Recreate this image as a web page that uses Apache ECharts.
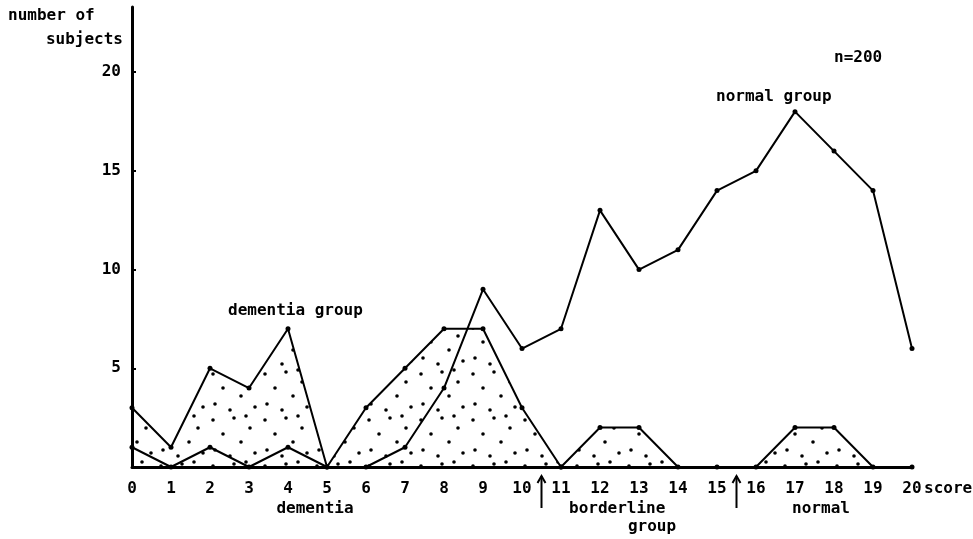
<!DOCTYPE html>
<html>
<head>
<meta charset="utf-8">
<script src="https://cdn.jsdelivr.net/npm/echarts@6/dist/echarts.min.js"></script>
<style>
  html, body { margin: 0; padding: 0; background: #fff; }
  #chart { width: 973px; height: 539px; }
</style>
</head>
<body>
<div id="chart"></div>
<script>
var scoreTicks = [0, 1, 2, 3, 4, 5, 6, 7, 8, 9, 10, 11, 12, 13, 14, 15, 16, 17, 18, 19, 20]
var dementiaScores = [0, 1, 2, 3, 4, 5, 6, 7, 8, 9, 10, 11]
var dementiaCounts = [3, 1, 5, 4, 7, 0, 3, 5, 7, 7, 3, 0]
var normalCounts = [1, 0, 1, 0, 1, 0, 0, 1, 4, 9, 6, 7, 13, 10, 11, 14, 15, 18, 16, 14, 6]
var borderlineScores = [11, 12, 13, 14, 15]
var borderlineCounts = [0, 2, 2, 0, 0]
var normalRangeScores = [16, 17, 18, 19, 20]
var normalRangeCounts = [0, 2, 2, 0, 0]
var yTicks = [5, 10, 15, 20]

var FONT = 'DejaVu Sans Mono'

function pairs(xs, ys) {
  return xs.map(function (x, i) { return [x, ys[i]] })
}

// dotted fill pattern
function dotPattern() {
  var c = document.createElement('canvas')
  c.width = 52
  c.height = 46
  var ctx = c.getContext('2d')
  ctx.fillStyle = '#000'
  var dots = [[5, 6], [26, 4], [42, 14], [15, 20], [33, 28], [7, 36], [47, 39], [22, 42], [38, 2]]
  dots.forEach(function (d) {
    ctx.beginPath()
    ctx.arc(d[0], d[1], 1.8, 0, Math.PI * 2)
    ctx.fill()
  })
  return c
}
var dots = { image: dotPattern(), repeat: 'repeat' }

var lineStyle = { color: '#000', width: 2 }
var itemStyle = { color: '#000' }

var myChart = echarts.init(document.getElementById('chart'))
var option = {
  backgroundColor: '#fff',
  animation: false,
  grid: { left: 132, right: 61, top: 7, bottom: 72 },
  xAxis: {
    type: 'value',
    min: 0,
    max: 20,
    interval: 1,
    axisLine: { lineStyle: { color: '#000', width: 3 } },
    axisTick: { show: false },
    splitLine: { show: false },
    axisLabel: {
      color: '#000',
      fontFamily: FONT,
      fontWeight: 'bold',
      fontSize: 16,
      margin: 14,
      formatter: function (v) { return scoreTicks.indexOf(v) >= 0 ? String(v) : '' }
    }
  },
  yAxis: {
    type: 'value',
    min: 0,
    max: 23.3,
    interval: 5,
    axisLine: { show: true, lineStyle: { color: '#000', width: 3 } },
    axisTick: { show: true, inside: true, length: 4, lineStyle: { color: '#000', width: 2 } },
    splitLine: { show: false },
    axisLabel: {
      color: '#000',
      fontFamily: FONT,
      fontWeight: 'bold',
      fontSize: 16,
      margin: 11,
      showMaxLabel: false,
      formatter: function (v) { return yTicks.indexOf(v) >= 0 ? String(v) : '' }
    }
  },
  series: [
    {
      name: 'dementia group',
      type: 'line',
      data: pairs(dementiaScores, dementiaCounts),
      symbol: 'circle',
      symbolSize: 5,
      lineStyle: lineStyle,
      itemStyle: itemStyle,
      areaStyle: { color: dots, opacity: 1 },
      z: 2
    },
    {
      name: 'borderline group',
      type: 'line',
      data: pairs(borderlineScores, borderlineCounts),
      symbol: 'circle',
      symbolSize: 5,
      lineStyle: lineStyle,
      itemStyle: itemStyle,
      areaStyle: { color: dots, opacity: 1 },
      z: 2
    },
    {
      name: 'normal',
      type: 'line',
      data: pairs(normalRangeScores, normalRangeCounts),
      symbol: 'circle',
      symbolSize: 5,
      lineStyle: lineStyle,
      itemStyle: itemStyle,
      areaStyle: { color: dots, opacity: 1 },
      z: 2
    },
    {
      name: 'normal group',
      type: 'line',
      data: pairs(scoreTicks, normalCounts),
      symbol: 'circle',
      symbolSize: 5,
      lineStyle: lineStyle,
      itemStyle: itemStyle,
      z: 3
    }
  ]
}
myChart.setOption(option)

// annotations
var textStyle = function (t, x, y, align) {
  return {
    type: 'text',
    x: x,
    y: y,
    style: {
      text: t,
      fill: '#000',
      font: 'bold 16px "' + FONT + '"',
      textAlign: align || 'left',
      textVerticalAlign: 'middle'
    }
  }
}
var px = function (v) { return myChart.convertToPixel({ xAxisIndex: 0 }, v) }
var arrowTop = 476
var arrowBottom = 508
var arrow = function (v) {
  var x = px(v)
  return [
    { type: 'line', shape: { x1: x, y1: arrowTop, x2: x, y2: arrowBottom }, style: { stroke: '#000', lineWidth: 2 } },
    { type: 'polyline', shape: { points: [[x - 4, arrowTop + 7], [x, arrowTop], [x + 4, arrowTop + 7]] }, style: { stroke: '#000', lineWidth: 2 } }
  ]
}

var graphics = [
  textStyle('number of', 8, 16),
  textStyle('subjects', 123, 40, 'right'),
  textStyle('n=200', 834, 58),
  textStyle('normal group', 716, 97),
  textStyle('dementia group', 228, 311),
  textStyle('score', 924, 489),
  textStyle('dementia', 315, 509, 'center'),
  textStyle('borderline', 569, 509),
  textStyle('group', 652, 527, 'center'),
  textStyle('normal', 821, 509, 'center')
].concat(arrow(10.5)).concat(arrow(15.5))

myChart.setOption({ graphic: graphics })
</script>
</body>
</html>
